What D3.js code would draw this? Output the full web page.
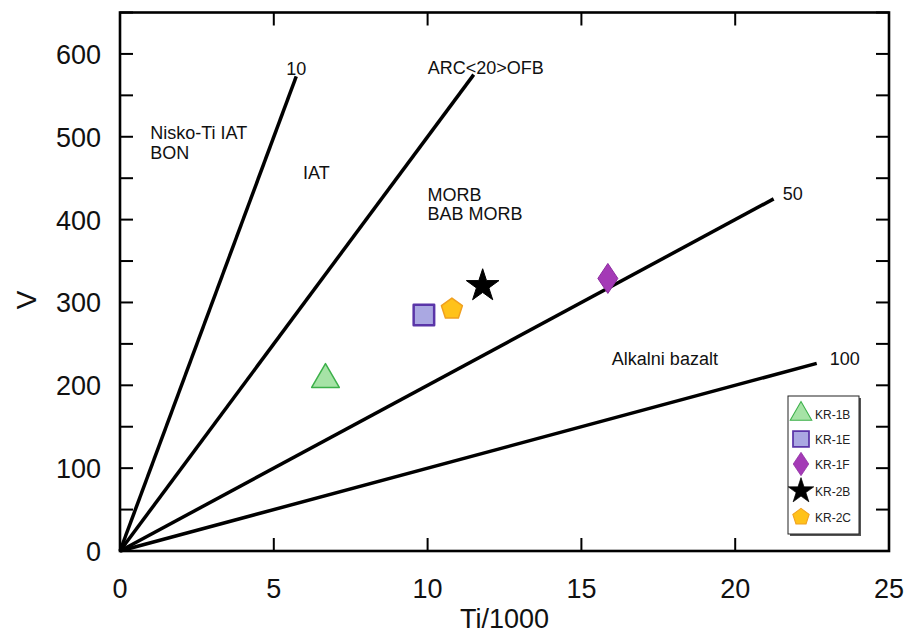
<!DOCTYPE html>
<html><head><meta charset="utf-8">
<script src="https://cdn.jsdelivr.net/npm/d3@7"></script>
<style>body{margin:0;background:#fff;} text{font-family:"Liberation Sans",Arial,sans-serif;}</style>
</head><body><svg id="c" width="909" height="636"></svg>
<script>
// Discrimination lines: Ti/V ratio and end point (Ti/1000)
const ratioLabels = ["10", "ARC<20>OFB", "50", "100"];
const ratios = [10, 20, 50, 100];
const lineEndsX = [5.73, 11.5, 21.25, 22.65];
// Field labels (left edge Ti/1000, baseline V)
const fieldLabels = [["Nisko-Ti IAT", "BON"], ["IAT"], ["MORB", "BAB MORB"], ["Alkalni bazalt"]];
const fieldX = [0.98, 5.95, 10.0, 15.99];
const fieldV = [497, 449, 423, 225];
// Samples
const samples = ["KR-1B", "KR-1E", "KR-1F", "KR-2B", "KR-2C"];
const sampleTi = [6.68, 9.88, 15.86, 11.79, 10.79];
const sampleV = [207, 285, 329, 320, 292];
const xTicks = [0, 5, 10, 15, 20, 25];
const yTicks = [0, 100, 200, 300, 400, 500, 600];

const svg = d3.select("#c");
const L = 120, R = 889, T = 12.5, B = 551;
const x = d3.scaleLinear().domain([0, 25]).range([L, R]);
const y = d3.scaleLinear().domain([0, 650]).range([B, T]);
const FS = 18;

// ratio lines
const lineGen = d3.line().x(d => x(d[0])).y(d => y(d[1]));
ratios.forEach((r, i) => {
  const xe = lineEndsX[i];
  svg.append("path").attr("d", lineGen([[0, 0], [xe, xe * 1000 / r]]))
    .attr("stroke", "#000").attr("stroke-width", 3.5).attr("fill", "none");
});
// ratio labels (offsets from the line end, in px)
const rlDx = [-10, -46, 9, 13];
const rlDy = [-1, -1, 1, 2];
ratios.forEach((r, i) => {
  const xe = lineEndsX[i], ve = xe * 1000 / r;
  svg.append("text").attr("x", x(xe) + rlDx[i]).attr("y", y(ve) + rlDy[i])
    .attr("font-size", FS).attr("fill", "#111").text(ratioLabels[i]);
});
// field labels
fieldLabels.forEach((lines, i) => {
  lines.forEach((t, j) => {
    svg.append("text").attr("x", x(fieldX[i])).attr("y", y(fieldV[i]) + j * 19.5)
      .attr("font-size", FS).attr("fill", "#111").text(t);
  });
});

// frame & ticks
const frame = svg.append("g");
frame.append("rect").attr("x", L).attr("y", T).attr("width", R - L).attr("height", B - T)
  .attr("fill", "none").attr("stroke", "#000").attr("stroke-width", 2.6);
const yMinor = d3.range(0, 651, 50);
yMinor.forEach(v => {
  frame.append("line").attr("x1", L).attr("x2", L + 13).attr("y1", y(v)).attr("y2", y(v)).attr("stroke", "#000").attr("stroke-width", 2);
  frame.append("line").attr("x1", R).attr("x2", R - 13).attr("y1", y(v)).attr("y2", y(v)).attr("stroke", "#000").attr("stroke-width", 2);
});
xTicks.forEach(v => {
  frame.append("line").attr("x1", x(v)).attr("x2", x(v)).attr("y1", B).attr("y2", B - 13).attr("stroke", "#000").attr("stroke-width", 2);
  frame.append("line").attr("x1", x(v)).attr("x2", x(v)).attr("y1", T).attr("y2", T + 13).attr("stroke", "#000").attr("stroke-width", 2);
});
yTicks.forEach(v => {
  svg.append("text").attr("x", 101).attr("y", y(v) + 10).attr("text-anchor", "end")
    .attr("font-size", 27).attr("fill", "#111").text(v);
});
xTicks.forEach(v => {
  svg.append("text").attr("x", x(v)).attr("y", B + 47).attr("text-anchor", "middle")
    .attr("font-size", 27).attr("fill", "#111").text(v);
});
svg.append("text").attr("x", x(12.5)).attr("y", 628).attr("text-anchor", "middle")
  .attr("font-size", 27).attr("fill", "#111").text("Ti/1000");
svg.append("text").attr("transform", `translate(36,300) rotate(-90)`).attr("text-anchor", "middle")
  .attr("font-size", 28).attr("fill", "#111").text("V");

// symbols
const styles = {
  "KR-1B": {type: d3.symbolTriangle, fill: "#a6e3a6", stroke: "#3cb04a", sw: 1.5},
  "KR-1E": {type: d3.symbolSquare, fill: "#aaa8e2", stroke: "#5a35a8", sw: 2.5},
  "KR-1F": {type: "diamond", fill: "#a43ab6", stroke: "#8d2ca0", sw: 1},
  "KR-2B": {type: d3.symbolStar, fill: "#000", stroke: "#000", sw: 1},
  "KR-2C": {type: "pentagon", fill: "#ffc21a", stroke: "#f0a020", sw: 1.5}
};
function pentagon(r) {
  const pts = d3.range(5).map(k => { const a = -Math.PI / 2 + k * 2 * Math.PI / 5; return [r * Math.cos(a), r * Math.sin(a)]; });
  return "M" + pts.map(p => p.join(",")).join("L") + "Z";
}
function diamond(w, h) { return `M0,${-h/2}L${w/2},0L0,${h/2}L${-w/2},0Z`; }
function symPath(name, scale) {
  const s = styles[name];
  if (s.type === "pentagon") return pentagon(11 * scale);
  if (s.type === "diamond") return diamond(20 * scale, 30 * scale);
  const sizes = {"KR-1B": 330, "KR-1E": 420, "KR-2B": 330};
  return d3.symbol().type(s.type).size(sizes[name] * scale * scale)();
}
samples.forEach((n, i) => {
  const s = styles[n];
  svg.append("path").attr("d", symPath(n, 1))
    .attr("transform", `translate(${x(sampleTi[i])},${y(sampleV[i])})`)
    .attr("fill", s.fill).attr("stroke", s.stroke).attr("stroke-width", s.sw).attr("stroke-linejoin", "round");
});

// legend
const lg = svg.append("g");
lg.append("rect").attr("x", 790).attr("y", 398).attr("width", 71).attr("height", 138).attr("fill", "#555");
lg.append("rect").attr("x", 788).attr("y", 396).attr("width", 71).attr("height", 138).attr("fill", "#fff").attr("stroke", "#222").attr("stroke-width", 1);
const legY = [414, 439, 464, 491, 517];
samples.forEach((n, i) => {
  const s = styles[n];
  lg.append("path").attr("d", symPath(n, 0.78)).attr("transform", `translate(801,${legY[i]})`)
    .attr("fill", s.fill).attr("stroke", s.stroke).attr("stroke-width", s.sw * 0.7);
  lg.append("text").attr("x", 815).attr("y", legY[i] + 4.5).attr("font-size", 12).attr("fill", "#222").text(n);
});
</script></body></html>
